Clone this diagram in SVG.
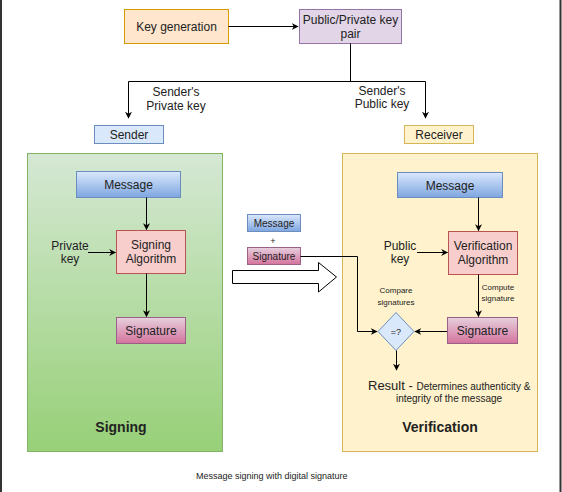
<svg xmlns="http://www.w3.org/2000/svg" width="562" height="492" viewBox="0 0 562 492">
<defs>
<linearGradient id="gBlue" x1="0" y1="0" x2="0" y2="1"><stop offset="0" stop-color="#dae8fc"/><stop offset="1" stop-color="#7ea6e0"/></linearGradient>
<linearGradient id="gPink" x1="0" y1="0" x2="0" y2="1"><stop offset="0" stop-color="#e6d0de"/><stop offset="1" stop-color="#d5739d"/></linearGradient>
<linearGradient id="gGreen" x1="0" y1="0" x2="0" y2="1"><stop offset="0" stop-color="#d5e8d4"/><stop offset="1" stop-color="#97d077"/></linearGradient>
<marker id="ah" viewBox="0 0 10 10" refX="9" refY="5" markerWidth="7" markerHeight="7" orient="auto" markerUnits="userSpaceOnUse"><path d="M0,0 L10,5 L0,10 L3,5 Z" fill="#000"/></marker>
</defs>
<style>
text{font-family:"Liberation Sans",Arial,sans-serif;fill:#222;}
.t12{font-size:12px;}
.t11{font-size:11px;}
.t10{font-size:10px;}
.t9{font-size:9px;}
.t8{font-size:8px;}
.c{text-anchor:middle;}
.b{font-weight:bold;font-size:14px;}
.blue{fill:url(#gBlue);stroke:#6c8ebf;}
.pink{fill:url(#gPink);stroke:#996185;}
.ln{fill:none;stroke:#000;stroke-width:1;}
.arr{fill:none;stroke:#000;stroke-width:1;marker-end:url(#ah);}
</style>
<rect x="0" y="0" width="562" height="492" fill="#fff"/>
<line x1="1" y1="0" x2="1" y2="492" stroke="#333" stroke-width="2"/>
<line x1="560.5" y1="0" x2="560.5" y2="492" stroke="#333" stroke-width="2"/>

<g id="signing-container">
<rect x="27.5" y="153.5" width="195" height="298" fill="url(#gGreen)" stroke="#82b366"/>
<text class="c b" x="121" y="432">Signing</text>
</g>
<g id="verification-container">
<rect x="342.5" y="153.5" width="195" height="298" fill="#fff2cc" stroke="#d6b656"/>
<text class="c b" x="440" y="432">Verification</text>
</g>

<g id="key-generation">
<rect x="124.5" y="9.5" width="104" height="34" fill="#ffe6cc" stroke="#d79b00"/>
<text class="c t12" x="176.5" y="31">Key generation</text>
</g>
<g id="key-pair">
<rect x="299.5" y="9.5" width="102" height="34" fill="#e1d5e7" stroke="#9673a6"/>
<text class="c t12" x="350.5" y="24">Public/Private key</text>
<text class="c t12" x="350.5" y="38">pair</text>
</g>
<g id="sender">
<rect x="94.5" y="125.5" width="69" height="18" fill="#dae8fc" stroke="#6c8ebf"/>
<text class="c t12" x="129" y="139">Sender</text>
</g>
<g id="receiver">
<rect x="404.5" y="125.5" width="69" height="18" fill="#fff2cc" stroke="#d6b656"/>
<text class="c t12" x="439" y="139">Receiver</text>
</g>

<g id="sign-message">
<rect x="76.5" y="171.5" width="104" height="26" class="blue"/>
<text class="c t12" x="128.5" y="189">Message</text>
</g>
<g id="signing-algorithm">
<rect x="116.5" y="230.5" width="69" height="43" fill="#f8cecc" stroke="#b85450"/>
<text class="c t12" x="151" y="249">Signing</text>
<text class="c t12" x="151" y="263">Algorithm</text>
</g>
<g id="sign-signature">
<rect x="116.5" y="317.5" width="69" height="26" class="pink"/>
<text class="c t12" x="151" y="335">Signature</text>
</g>
<g id="private-key-label">
<text class="c t12" x="70" y="250">Private</text>
<text class="c t12" x="70" y="263">key</text>
</g>

<g id="transfer-message">
<rect x="247.5" y="214.5" width="53" height="17" class="blue"/>
<text class="c t10" x="274" y="226.5">Message</text>
</g>
<text class="c t9" x="273" y="244">+</text>
<g id="transfer-signature">
<rect x="247.5" y="247.5" width="53" height="17" class="pink"/>
<text class="c t10" x="274" y="259.5">Signature</text>
</g>
<g id="transfer-arrow">
<path d="M232.5,270.5 L318.5,270.5 L318.5,262.5 L336.5,277 L318.5,292 L318.5,283.5 L232.5,283.5 Z" fill="#fff" stroke="#000"/>
</g>

<g id="verify-message">
<rect x="397.5" y="172.5" width="105" height="25" class="blue"/>
<text class="c t12" x="450" y="189.5">Message</text>
</g>
<g id="verification-algorithm">
<rect x="448.5" y="231.5" width="69" height="43" fill="#f8cecc" stroke="#b85450"/>
<text class="c t12" x="483" y="250">Verification</text>
<text class="c t12" x="483" y="264">Algorithm</text>
</g>
<g id="verify-signature">
<rect x="447.5" y="317.5" width="70" height="26" class="pink"/>
<text class="c t12" x="482.5" y="335">Signature</text>
</g>
<g id="public-key-label">
<text class="c t12" x="400" y="250">Public</text>
<text class="c t12" x="400" y="263">key</text>
</g>
<g id="compare">
<path d="M396,312.5 L414,331.5 L396,350.5 L378,331.5 Z" fill="#dae8fc" stroke="#6c8ebf"/>
<text class="c t9" x="396" y="334.5">=?</text>
</g>
<g id="compare-label">
<text class="c t8" x="396" y="293">Compare</text>
<text class="c t8" x="396" y="305">signatures</text>
</g>
<g id="compute-label">
<text class="c t8" x="498" y="290">Compute</text>
<text class="c t8" x="498" y="301">signature</text>
</g>
<g id="result">
<text x="368" y="390"><tspan font-size="13">Result - </tspan><tspan font-size="10">Determines authenticity &amp;</tspan></text>
<text class="c t10" x="449" y="402">integrity of the message</text>
</g>

<g id="connectors">
<path class="arr" d="M228.5,26.5 H298"/>
<path class="ln" d="M350.5,43.5 V81.5 M128.5,81.5 H425.5"/>
<path class="arr" d="M128.5,81.5 V118"/>
<path class="arr" d="M425.5,81.5 V118"/>
<path class="arr" d="M146.5,197.5 V229.5"/>
<path class="arr" d="M88,252.5 H115.5"/>
<path class="arr" d="M146.5,273.5 V316.5"/>
<path class="arr" d="M300.5,256.5 H357.5 V331.5 H377"/>
<path class="arr" d="M478.5,197.5 V230.5"/>
<path class="arr" d="M417,252.5 H447.5"/>
<path class="arr" d="M478.5,274.5 V316.5"/>
<path class="arr" d="M447,331.5 H415"/>
<path class="arr" d="M396.5,350.5 V370"/>
</g>

<g id="sender-private-key-label">
<text class="c t12" x="176" y="96">Sender's</text>
<text class="c t12" x="176" y="110">Private key</text>
</g>
<g id="sender-public-key-label">
<text class="c t12" x="382" y="95">Sender's</text>
<text class="c t12" x="382" y="108">Public key</text>
</g>
<text class="t9" x="196" y="479">Message signing with digital signature</text>
</svg>
